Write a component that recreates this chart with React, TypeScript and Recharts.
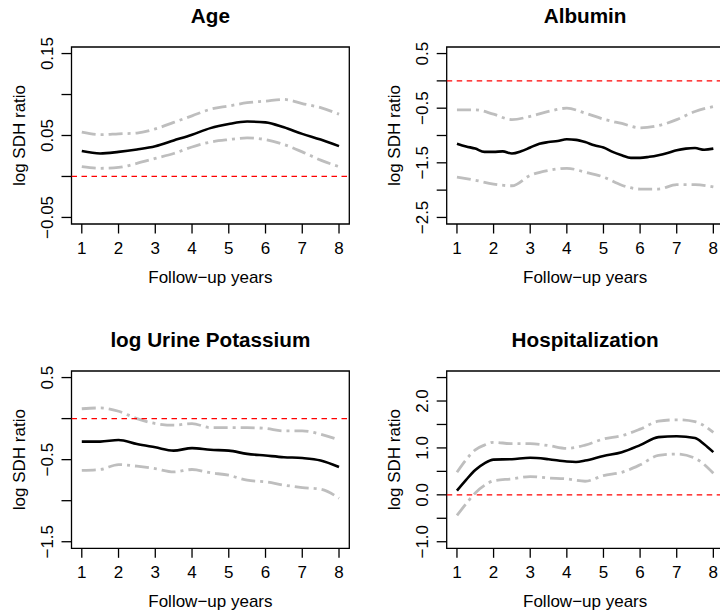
import React from 'react';
import { LineChart, Line, XAxis, YAxis, ReferenceLine, ReferenceArea } from 'recharts';

// ---------- shared axis data ----------
const xTicks = [1, 2, 3, 4, 5, 6, 7, 8];
const xDomain = [0.72, 8.28];
const halfYears = [1, 1.5, 2, 2.5, 3, 3.5, 4, 4.5, 5, 5.5, 6, 6.5, 7, 7.5, 8];
const quarterYears = [1, 1.25, 1.5, 1.75, 2, 2.25, 2.5, 2.75, 3, 3.25, 3.5, 3.75, 4, 4.25, 4.5, 4.75, 5, 5.25, 5.5, 5.75, 6, 6.25, 6.5, 6.75, 7, 7.25, 7.5, 7.75, 8];

// ---------- Age ----------
const ageEst = [0.031, 0.028, 0.030, 0.033, 0.037, 0.044, 0.051, 0.059, 0.064, 0.067, 0.066, 0.060, 0.052, 0.045, 0.037];
const ageUpper = [0.054, 0.051, 0.052, 0.053, 0.058, 0.066, 0.074, 0.082, 0.086, 0.090, 0.092, 0.094, 0.089, 0.084, 0.076];
const ageLower = [0.012, 0.010, 0.011, 0.016, 0.022, 0.028, 0.036, 0.042, 0.045, 0.047, 0.045, 0.039, 0.030, 0.020, 0.012];
const ageTicks = [-0.05, 0, 0.05, 0.1, 0.15];
const ageTickLabels = ['\u22120.05', '', '0.05', '', '0.15'];
const ageDomain = [-0.058, 0.158];

// ---------- Albumin ----------
const albEst = [-1.15, -1.20, -1.24, -1.30, -1.30, -1.29, -1.33, -1.29, -1.22, -1.15, -1.12, -1.10, -1.07, -1.08, -1.12, -1.18, -1.22, -1.30, -1.36, -1.41, -1.41, -1.39, -1.36, -1.32, -1.27, -1.24, -1.23, -1.26, -1.24];
const albUpper = [-0.53, -0.53, -0.61, -0.71, -0.65, -0.56, -0.50, -0.59, -0.70, -0.78, -0.86, -0.82, -0.71, -0.56, -0.47];
const albLower = [-1.76, -1.82, -1.89, -1.92, -1.73, -1.64, -1.60, -1.67, -1.76, -1.91, -1.98, -1.98, -1.90, -1.90, -1.94];
const albTicks = [-2.5, -2, -1.5, -1, -0.5, 0, 0.5];
const albTickLabels = ['\u22122.5', '', '\u22121.5', '', '\u22120.5', '', '0.5'];
const albDomain = [-2.62, 0.62];

// ---------- log Urine Potassium ----------
const potEst = [-0.28, -0.28, -0.26, -0.31, -0.35, -0.39, -0.36, -0.38, -0.39, -0.43, -0.45, -0.47, -0.48, -0.51, -0.59];
const potUpper = [0.12, 0.13, 0.09, 0.00, -0.06, -0.08, -0.06, -0.11, -0.11, -0.11, -0.12, -0.15, -0.15, -0.19, -0.26];
const potLower = [-0.63, -0.62, -0.56, -0.58, -0.61, -0.65, -0.62, -0.66, -0.69, -0.75, -0.77, -0.81, -0.84, -0.86, -0.97];
const potTicks = [-1.5, -1, -0.5, 0, 0.5];
const potTickLabels = ['\u22121.5', '', '\u22120.5', '', '0.5'];
const potDomain = [-1.58, 0.58];

// ---------- Hospitalization ----------
const hospEstYears = [1, 1.25, 1.5, 1.75, 2, 2.5, 3, 3.5, 4, 4.25, 4.5, 5, 5.5, 6, 6.5, 7, 7.5, 7.75, 8];
const hospEst = [0.09, 0.32, 0.53, 0.67, 0.75, 0.76, 0.79, 0.76, 0.71, 0.70, 0.73, 0.83, 0.91, 1.06, 1.23, 1.25, 1.21, 1.08, 0.91];
const hospBandYears = [1, 1.25, 1.5, 1.75, 2, 2.5, 3, 3.5, 4, 4.5, 5, 5.5, 6, 6.5, 7, 7.5, 8];
const hospUpper = [0.48, 0.75, 0.96, 1.06, 1.12, 1.09, 1.09, 1.05, 0.99, 1.06, 1.19, 1.26, 1.40, 1.57, 1.60, 1.56, 1.33];
const hospLower = [-0.44, -0.19, 0.04, 0.20, 0.30, 0.34, 0.39, 0.36, 0.34, 0.29, 0.41, 0.48, 0.64, 0.84, 0.87, 0.78, 0.46];
const hospTicks = [-1, -0.5, 0, 0.5, 1, 1.5, 2, 2.5];
const hospTickLabels = ['\u22121.0', '', '0.0', '', '1.0', '', '2.0', ''];
const hospDomain = [-1.14, 2.64];

type Series = { key: string; xs: number[]; ys: number[] };

function buildTable(series: Series[]) {
  const map = new Map<number, any>();
  series.forEach((s) => {
    s.xs.forEach((x, i) => {
      if (!map.has(x)) map.set(x, { year: x });
      map.get(x)[s.key] = s.ys[i];
    });
  });
  return Array.from(map.values()).sort((a, b) => a.year - b.year);
}

const FONT = '"Liberation Sans", Arial, Helvetica, sans-serif';
const FS = 17;

type Box = { l: number; t: number; r: number; b: number };

type PanelProps = {
  title: string;
  data: any[];
  left: number;
  top: number;
  width: number;
  height: number;
  box: Box;
  yDomain: number[];
  yTicks: number[];
  yTickLabels: string[];
};

const YW = 50;
const XH = 30;

function Panel({ title, data, left, top, width, height, box, yDomain, yTicks, yTickLabels }: PanelProps) {
  const cx = (box.l + box.r) / 2;
  const cy = (box.t + box.b) / 2;
  const yLabX = box.l - 18.3;
  const yTitleX = box.l - 46.5;
  return (
    <div style={{ position: 'absolute', left, top, width, height }}>
      <LineChart
        width={width}
        height={height}
        data={data}
        margin={{ top: box.t, left: box.l - YW, right: width - box.r, bottom: height - box.b - XH }}
      >
        <XAxis
          dataKey="year"
          type="number"
          domain={xDomain}
          ticks={xTicks}
          interval={0}
          allowDataOverflow
          axisLine={false}
          tickLine={{ stroke: '#000', strokeWidth: 1.3 }}
          tickSize={9.5}
          height={XH}
          tick={(p: any) => (
            <text x={p.x} y={box.b + 30} textAnchor="middle" fontFamily={FONT} fontSize={FS} fill="#000">
              {p.payload.value}
            </text>
          )}
          label={() => (
            <text x={cx} y={box.b + 59} textAnchor="middle" fontFamily={FONT} fontSize={FS} fill="#000">
              Follow{'\u2212'}up years
            </text>
          )}
        />
        <YAxis
          type="number"
          domain={yDomain}
          ticks={yTicks}
          interval={0}
          allowDataOverflow
          axisLine={false}
          tickLine={{ stroke: '#000', strokeWidth: 1.3 }}
          tickSize={10}
          width={YW}
          tick={(p: any) => {
            const i = yTicks.findIndex((t) => Math.abs(t - p.payload.value) < 1e-9);
            const lab = i >= 0 ? yTickLabels[i] : '';
            if (!lab) return <g />;
            return (
              <text
                x={yLabX}
                y={p.y}
                transform={`rotate(-90, ${yLabX}, ${p.y})`}
                textAnchor="middle"
                fontFamily={FONT}
                fontSize={FS}
                fill="#000"
              >
                {lab}
              </text>
            );
          }}
          label={() => (
            <text
              x={yTitleX}
              y={cy}
              transform={`rotate(-90, ${yTitleX}, ${cy})`}
              textAnchor="middle"
              fontFamily={FONT}
              fontSize={FS}
              fill="#000"
            >
              log SDH ratio
            </text>
          )}
        />
        <ReferenceArea
          x1={xDomain[0]}
          x2={xDomain[1]}
          y1={yDomain[0]}
          y2={yDomain[1]}
          fill="none"
          fillOpacity={0}
          stroke="#000"
          strokeWidth={1.3}
          ifOverflow="visible"
          label={() => (
            <text x={cx} y={box.t - 24} textAnchor="middle" fontFamily={FONT} fontSize={20.7} fontWeight="bold" fill="#000">
              {title}
            </text>
          )}
        />
        <Line type="monotone" dataKey="upper" stroke="#BEBEBE" strokeWidth={2.8} strokeDasharray="14 5 3 5" dot={false} activeDot={false} connectNulls isAnimationActive={false} />
        <Line type="monotone" dataKey="lower" stroke="#BEBEBE" strokeWidth={2.8} strokeDasharray="14 5 3 5" dot={false} activeDot={false} connectNulls isAnimationActive={false} />
        <Line type="monotone" dataKey="est" stroke="#000" strokeWidth={2.6} dot={false} activeDot={false} connectNulls isAnimationActive={false} />
        <ReferenceLine y={0} stroke="#FF0000" strokeWidth={1.3} strokeDasharray="5.5 4.5" />
      </LineChart>
    </div>
  );
}

const ageData = buildTable([
  { key: 'est', xs: halfYears, ys: ageEst },
  { key: 'upper', xs: halfYears, ys: ageUpper },
  { key: 'lower', xs: halfYears, ys: ageLower },
]);
const albData = buildTable([
  { key: 'est', xs: quarterYears, ys: albEst },
  { key: 'upper', xs: halfYears, ys: albUpper },
  { key: 'lower', xs: halfYears, ys: albLower },
]);
const potData = buildTable([
  { key: 'est', xs: halfYears, ys: potEst },
  { key: 'upper', xs: halfYears, ys: potUpper },
  { key: 'lower', xs: halfYears, ys: potLower },
]);
const hospData = buildTable([
  { key: 'est', xs: hospEstYears, ys: hospEst },
  { key: 'upper', xs: hospBandYears, ys: hospUpper },
  { key: 'lower', xs: hospBandYears, ys: hospLower },
]);

export default function App() {
  const topBox: Box = { l: 71.5, t: 47, r: 349.3, b: 224 };
  const topBoxR: Box = { l: 86.7, t: 47, r: 363.6, b: 224 };
  const botBox: Box = { l: 71.5, t: 65, r: 349.3, b: 242.3 };
  const botBoxR: Box = { l: 86.7, t: 65, r: 363.6, b: 242.3 };
  return (
    <div style={{ position: 'absolute', left: 0, top: 0, width: 720, height: 613, overflow: 'hidden', background: '#fff' }}>
      <Panel title="Age" data={ageData} left={0} top={0} width={360} height={306} box={topBox} yDomain={ageDomain} yTicks={ageTicks} yTickLabels={ageTickLabels} />
      <Panel title="Albumin" data={albData} left={360} top={0} width={380} height={306} box={topBoxR} yDomain={albDomain} yTicks={albTicks} yTickLabels={albTickLabels} />
      <Panel title="log Urine Potassium" data={potData} left={0} top={306} width={360} height={307} box={botBox} yDomain={potDomain} yTicks={potTicks} yTickLabels={potTickLabels} />
      <Panel title="Hospitalization" data={hospData} left={360} top={306} width={380} height={307} box={botBoxR} yDomain={hospDomain} yTicks={hospTicks} yTickLabels={hospTickLabels} />
    </div>
  );
}
